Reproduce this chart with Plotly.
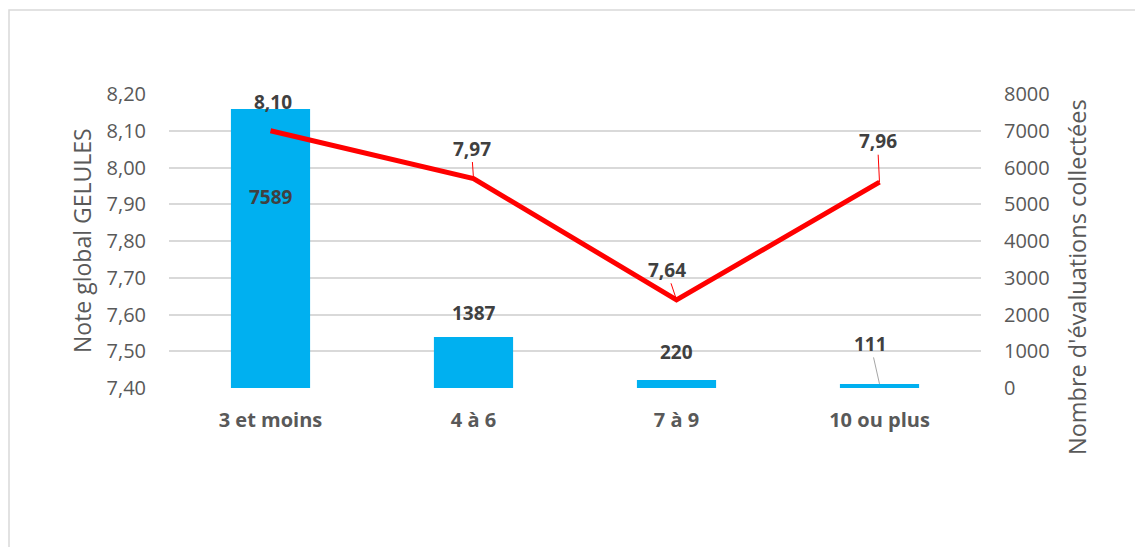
import plotly.graph_objects as go

categories = ["3 et moins", "4 à 6", "7 à 9", "10 ou plus"]
nb_evaluations = [7589, 1387, 220, 111]
note_globale = [8.10, 7.97, 7.64, 7.96]
note_ticks = [7.40, 7.50, 7.60, 7.70, 7.80, 7.90, 8.00, 8.10, 8.20]
count_ticks = [0, 1000, 2000, 3000, 4000, 5000, 6000, 7000, 8000]

FONT = "Open Sans"
GRAY = "#595959"
DARK = "#404040"

fig = go.Figure()
fig.add_trace(go.Bar(
    x=categories, y=nb_evaluations, yaxis="y",
    marker=dict(color="#00B0F0", line=dict(width=0)),
    width=0.39, name="Nombre d'évaluations collectées", hoverinfo="x+y",
))
fig.add_trace(go.Scatter(
    x=categories, y=note_globale, yaxis="y2", mode="lines",
    line=dict(color="#FF0000", width=5), name="Note global GELULES",
))

LBL = dict(family=FONT, size=19, color=DARK)

# label offsets (pixels) for line labels: (ax, ay, leader)
line_offsets = [(2, -29, False), (-2, -30, True), (-10, -30, True), (-2, -41, True)]
for cat, v, (ax, ay, lead) in zip(categories, note_globale, line_offsets):
    txt = f"{v:.2f}".replace(".", ",")
    if lead:
        fig.add_annotation(x=cat, y=v, xref="x", yref="y2", text=f"<b>{txt}</b>",
                           showarrow=True, ax=ax, ay=ay, arrowhead=0, arrowwidth=1,
                           arrowcolor="#FF0000", font=LBL, borderpad=0)
    else:
        fig.add_annotation(x=cat, y=v, xref="x", yref="y2", text=f"<b>{txt}</b>",
                           showarrow=False, yshift=-ay, xshift=ax, font=LBL)

bar_offsets = [(0, -88, False), (0, 24, False), (0, 28, False), (-9, -40, True)]
for cat, v, (dx, dy, lead) in zip(categories, nb_evaluations, bar_offsets):
    if lead:
        fig.add_annotation(x=cat, y=v, xref="x", yref="y", text=f"<b>{v}</b>",
                           showarrow=True, ax=dx, ay=dy, arrowhead=0, arrowwidth=1,
                           arrowcolor="#A6A6A6", font=LBL, borderpad=0)
    else:
        fig.add_annotation(x=cat, y=v, xref="x", yref="y", text=f"<b>{v}</b>",
                           showarrow=False, yshift=dy, xshift=dx, font=LBL)

# axis titles
fig.add_annotation(x=(82 - 169) / 812, y=0.5, xref="paper", yref="paper",
                   text="Note global GELULES", textangle=-90, showarrow=False,
                   xanchor="center", yanchor="middle",
                   font=dict(family=FONT, size=23, color=GRAY))
fig.add_annotation(x=(1077 - 169) / 812, y=(388 - 277) / 294, xref="paper", yref="paper",
                   text="Nombre d'évaluations collectées", textangle=-90, showarrow=False,
                   xanchor="center", yanchor="middle",
                   font=dict(family=FONT, size=23.5, color=GRAY))

# chart border (left and top visible)
fig.add_shape(type="rect", xref="paper", yref="paper",
              x0=(9 - 169) / 812, x1=(1145 - 169) / 812,
              y0=(388 - 560) / 294, y1=(388 - 10) / 294,
              line=dict(color="#D9D9D9", width=1.5), fillcolor="rgba(0,0,0,0)", layer="below")

fig.update_layout(
    width=1135, height=547,
    margin=dict(l=169, r=154, t=94, b=159),
    paper_bgcolor="white", plot_bgcolor="white",
    separators=",.",
    showlegend=False,
    font=dict(family=FONT, color=GRAY),
    xaxis=dict(type="category", showgrid=False, zeroline=False, showline=False,
               ticks="", tickfont=dict(family=FONT, size=20, color=GRAY),
               ticklabelstandoff=18,
               tickvals=categories, ticktext=[f"<b>{c}</b>" for c in categories]),
    yaxis=dict(side="right", range=[0, 8000], tickvals=count_ticks, tickformat="d",
               showgrid=True, gridcolor="#D9D9D9", gridwidth=1.5, zeroline=False,
               showline=False, ticks="", ticklabelstandoff=22,
               tickfont=dict(family=FONT, size=20, color=GRAY)),
    yaxis2=dict(side="left", overlaying="y", range=[7.40, 8.20], tickvals=note_ticks,
                tickformat=".2f", showgrid=False, zeroline=False, showline=False,
                ticks="", ticklabelstandoff=22,
                tickfont=dict(family=FONT, size=20, color=GRAY)),
)

fig.write_html("out.html")
